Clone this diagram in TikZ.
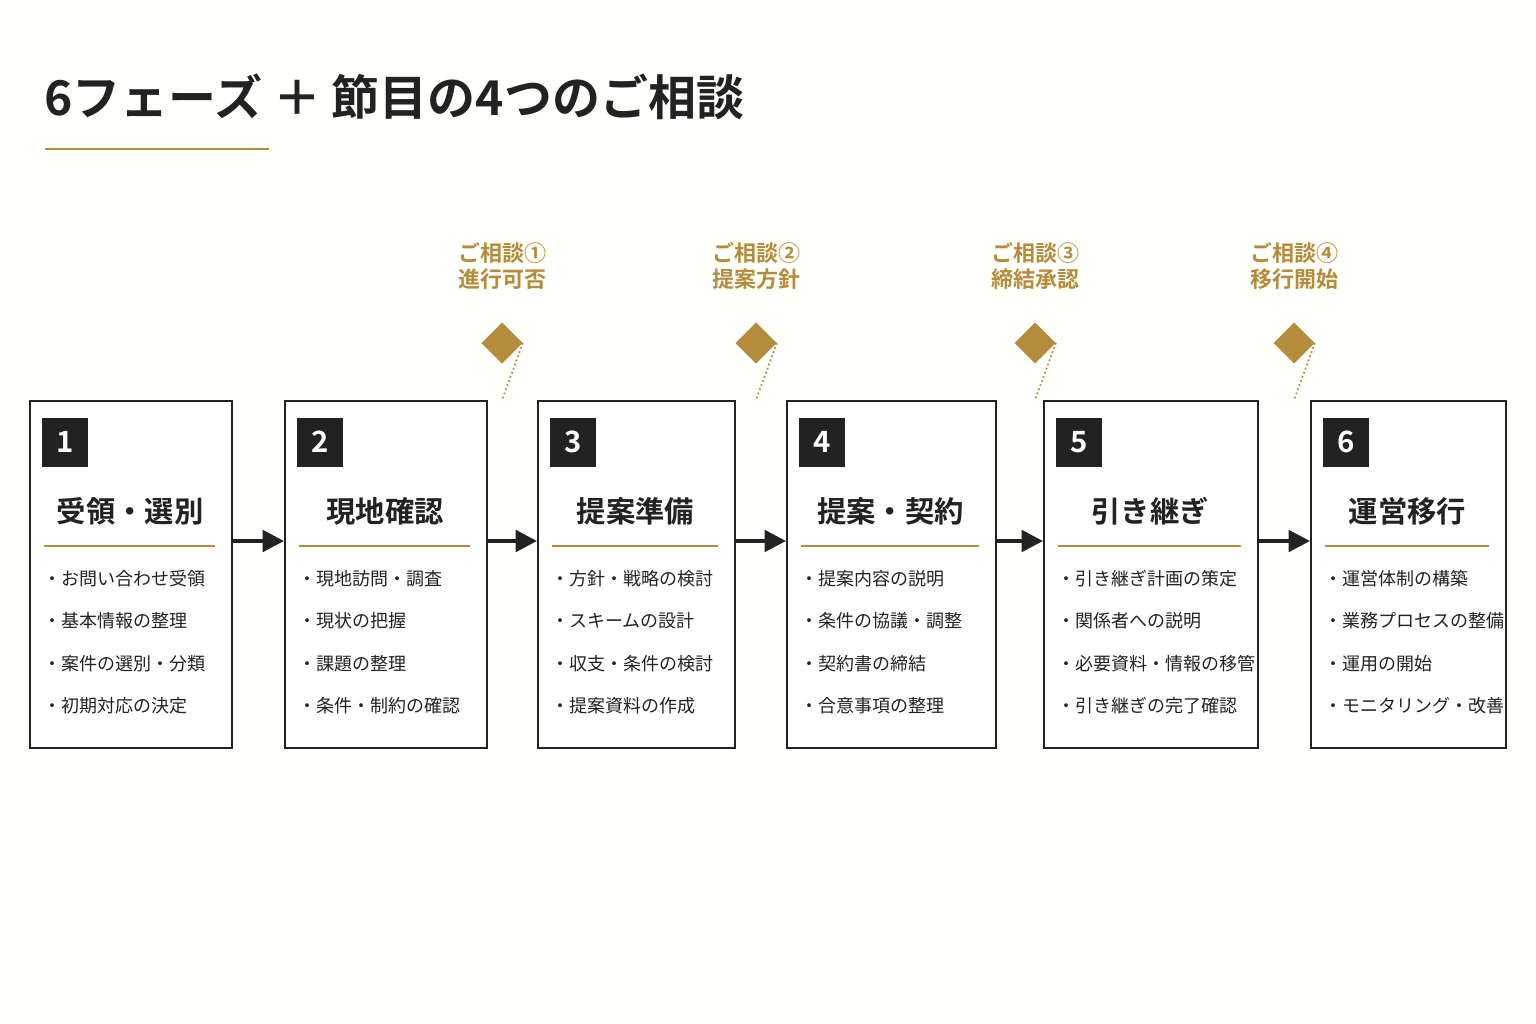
\documentclass[tikz,border=0pt]{standalone}
\usepackage{fontspec}
\setmainfont{Noto Sans CJK JP}
\newfontfamily\jpb{Noto Sans CJK JP Bold}
\usetikzlibrary{arrows.meta}
\definecolor{gold}{HTML}{B58C3C}
\definecolor{ink}{HTML}{222222}
\begin{document}
\begin{tikzpicture}[x=0.75pt,y=-0.75pt,
 box/.style={draw=ink,line width=1.4pt,fill=white},
 num/.style={fill=ink,text=white,minimum width=46*0.75pt,minimum height=49*0.75pt,inner sep=0pt,font=\jpb\fontsize{22}{22}\selectfont},
 ttl/.style={font=\jpb\fontsize{22}{26}\selectfont,text=ink},
 itm/.style={anchor=west,font=\fontsize{13.5}{16}\selectfont,text=ink,inner sep=0pt},
 cons/.style={font=\jpb\fontsize{16.5}{20}\selectfont,text=gold,align=center},
 dia/.style={fill=gold,minimum size=29*0.75pt,rotate=45,inner sep=0pt},
 arr/.style={ink,line width=3pt,-{Triangle[length=16pt,width=16pt]}}]
\fill[white!98!yellow!60!white] (0,0) rectangle (1536,1024);
\useasboundingbox (0,0) rectangle (1536,1024);
\node[anchor=west,font=\jpb\fontsize{36}{40}\selectfont,text=ink,inner sep=0pt] (title) at (44,97) {6フェーズ ＋ 節目の4つのご相談};
\draw[gold,line width=1.5pt] (45,149) -- (269,149);
\foreach \i/\a/\b/\t/\p/\q/\r/\s in {
1/29/231/受領・選別/お問い合わせ受領/基本情報の整理/案件の選別・分類/初期対応の決定,
2/284/486/現地確認/現地訪問・調査/現状の把握/課題の整理/条件・制約の確認,
3/537/734/提案準備/方針・戦略の検討/スキームの設計/収支・条件の検討/提案資料の作成,
4/786/995/提案・契約/提案内容の説明/条件の協議・調整/契約書の締結/合意事項の整理,
5/1043/1257/引き継ぎ/引き継ぎ計画の策定/関係者への説明/必要資料・情報の移管/引き継ぎの完了確認,
6/1310/1505/運営移行/運営体制の構築/業務プロセスの整備/運用の開始/モニタリング・改善}{
 \node[box,minimum width={(\b-\a)*0.75pt},minimum height=347*0.75pt,anchor=north west,inner sep=0pt] (b\i) at (\a,400) {};
 \node[num] (n\i) at (\a+36,442) {\i};
 \node[ttl] (t\i) at ({(\a+\b)/2},511) {\t};
 \draw[gold,line width=1.2pt] (\a+15,546) -- (\b-16,546);
 \node[itm] (p\i) at (\a+14,579) {・\p};
 \node[itm] (q\i) at (\a+14,621) {・\q};
 \node[itm] (r\i) at (\a+14,664) {・\r};
 \node[itm] (s\i) at (\a+14,706) {・\s};
}
\foreach \i/\j in {1/2,2/3,3/4,4/5,5/6}{
 \draw[arr] (b\i.east |- 0,541) -- (b\j.west |- 0,541);
}
\foreach \k/\x/\l in {①/502/進行可否,②/756/提案方針,③/1035/締結承認,④/1294/移行開始}{
 \node[dia] (d\x) at (\x,343) {};
 \coordinate (e\x) at (\x,400);
 \draw[gold,line width=1.3pt,dotted] (d\x.south east) -- (e\x);
 \node[cons] (c\x) at (\x,266) {ご相談\k\\\l};
}
\end{tikzpicture}
\end{document}
